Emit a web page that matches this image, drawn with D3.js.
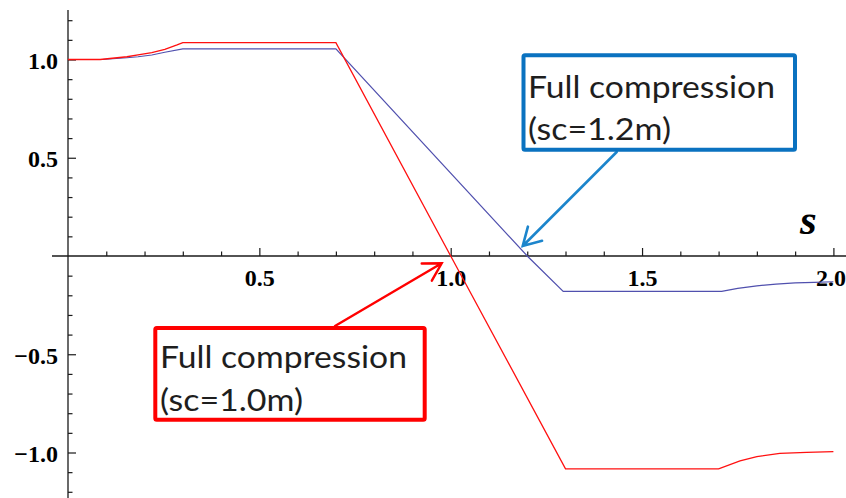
<!DOCTYPE html>
<html>
<head>
<meta charset="utf-8">
<script src="https://cdn.jsdelivr.net/npm/d3@7"></script>
<style>
  html, body { margin: 0; padding: 0; background: #fff; }
  svg { display: block; }
</style>
</head>
<body>
<svg id="chart" width="846" height="498"></svg>
<script>
// Red series: sc = 1.0 m
const redS = [0, 0.084, 0.154, 0.183, 0.219, 0.253, 0.285, 0.3, 0.7, 1.0, 1.3, 1.7, 1.756, 1.8, 1.86, 1.93, 2.0];
const redV = [1.0, 1.0, 1.014, 1.023, 1.035, 1.052, 1.074, 1.086, 1.086, 0.0, -1.083, -1.083, -1.043, -1.021, -1.004, -0.999, -0.996];

// Blue series: sc = 1.2 m
const blueS = [0, 0.09, 0.154, 0.183, 0.219, 0.253, 0.3, 0.7, 1.2, 1.294, 1.708, 1.75, 1.8, 1.85, 1.9, 1.95, 2.0];
const blueV = [1.0, 1.0, 1.009, 1.014, 1.023, 1.037, 1.054, 1.054, 0.0, -0.18, -0.18, -0.165, -0.152, -0.143, -0.137, -0.134, -0.131];

// Axis ticks
const xMajorTicks = [0.5, 1.0, 1.5, 2.0];
const xMinorTicks = [0.1, 0.2, 0.3, 0.4, 0.6, 0.7, 0.8, 0.9, 1.1, 1.2, 1.3, 1.4, 1.6, 1.7, 1.8, 1.9];
const yMajorTicks = [-1.0, -0.5, 0.5, 1.0];
const yMinorTicks = [-1.2, -1.1, -0.9, -0.8, -0.7, -0.6, -0.4, -0.3, -0.2, -0.1, 0.1, 0.2, 0.3, 0.4, 0.6, 0.7, 0.8, 0.9, 1.1, 1.2];

// Annotations: text lines and the crossing point each arrow points at
const blueNote = ["Full compression", "(sc=1.2m)"];
const redNote = ["Full compression", "(sc=1.0m)"];
const blueTarget = [1.2, 0];
const redTarget = [1.0, 0];

const W = 846, H = 498;
const svg = d3.select("#chart");
svg.append("rect").attr("width", W).attr("height", H).attr("fill", "#fff");

const x = d3.scaleLinear().domain([0, 2]).range([68, 833.4]);
const y = d3.scaleLinear().domain([-1, 1]).range([452.5, 59.5]);

const axisColor = "#1a1a1a";
const fmt = d3.format(".1f");

// ---- axes ----
const gx = svg.append("g").attr("transform", `translate(0,${y(0)})`);
gx.append("line").attr("x1", 52).attr("x2", W).attr("y1", 0).attr("y2", 0)
  .attr("stroke", axisColor).attr("stroke-width", 1.3);
gx.append("g").call(d3.axisBottom(x).tickValues(xMinorTicks).tickSizeInner(-4.5).tickSizeOuter(0).tickFormat(""));
gx.append("g").call(d3.axisBottom(x).tickValues(xMajorTicks).tickSizeInner(-8).tickSizeOuter(0).tickPadding(13).tickFormat(fmt));

const gy = svg.append("g").attr("transform", `translate(${x(0)},0)`);
gy.append("line").attr("x1", 0).attr("x2", 0).attr("y1", 10).attr("y2", H)
  .attr("stroke", axisColor).attr("stroke-width", 1.3);
gy.append("g").call(d3.axisLeft(y).tickValues(yMinorTicks).tickSizeInner(-4.5).tickSizeOuter(0).tickFormat(""));
gy.append("g").call(d3.axisLeft(y).tickValues(yMajorTicks).tickSizeInner(-8).tickSizeOuter(0).tickPadding(10).tickFormat(fmt));

svg.selectAll(".domain").remove();
svg.selectAll(".tick line").attr("stroke", axisColor).attr("stroke-width", 1.2);
svg.selectAll(".tick text")
  .attr("fill", "#000")
  .style("font-family", "'Liberation Serif', 'Times New Roman', serif")
  .style("font-size", "24px")
  .style("font-weight", "bold");
gy.selectAll(".tick text").attr("dy", "0.38em");
// the last x label sits against the right edge
gx.selectAll(".tick text").filter(d => d === 2.0)
  .attr("text-anchor", "end").attr("x", W - x(2.0) - 0.5);

// axis label
svg.append("text")
  .attr("x", 800).attr("y", 233.5)
  .style("font-family", "'Liberation Serif', 'Times New Roman', serif")
  .style("font-size", "43px").style("font-style", "italic").style("font-weight", "bold")
  .attr("fill", "#000")
  .text("s");

// ---- curves ----
const line = d3.line().x(d => x(d[0])).y(d => y(d[1]));
svg.append("path").datum(blueS.map((s, i) => [s, blueV[i]]))
  .attr("d", line).attr("fill", "none").attr("stroke", "#5050ae").attr("stroke-width", 1.2);
svg.append("path").datum(redS.map((s, i) => [s, redV[i]]))
  .attr("d", line).attr("fill", "none").attr("stroke", "#ff1010").attr("stroke-width", 1.3);

// ---- annotations ----
function noteBox(bx, by, bw, bh, color, lines, tx, baselines) {
  svg.append("rect").attr("x", bx).attr("y", by).attr("width", bw).attr("height", bh)
    .attr("rx", 1.5).attr("fill", "#fff").attr("stroke", color).attr("stroke-width", 4);
  lines.forEach((t, i) => {
    svg.append("text").attr("x", tx).attr("y", baselines[i])
      .style("font-family", "Lato, 'Open Sans', sans-serif").style("font-size", "30px")
      .attr("fill", "#1e1e1e")
      .attr("textLength", i === 0 ? 247 : 143).attr("lengthAdjust", "spacingAndGlyphs")
      .text(t);
  });
}

function arrow(x0, y0, x1, y1, color, width) {
  const ang = Math.atan2(y0 - y1, x0 - x1);
  const len = 20, spread = Math.PI / 6;
  const p = d3.path();
  p.moveTo(x0, y0); p.lineTo(x1, y1);
  p.moveTo(x1 + len * Math.cos(ang + spread), y1 + len * Math.sin(ang + spread));
  p.lineTo(x1, y1);
  p.lineTo(x1 + len * Math.cos(ang - spread), y1 + len * Math.sin(ang - spread));
  svg.append("path").attr("d", p.toString()).attr("fill", "none")
    .attr("stroke", color).attr("stroke-width", width)
    .attr("stroke-linecap", "round").attr("stroke-linejoin", "miter");
}

// blue note, arrow to the sc = 1.2 crossing
arrow(616.7, 152, x(blueTarget[0]) - 4.5, y(blueTarget[1]) - 10, "#1c85cc", 2.6);
noteBox(523.5, 55.3, 271.5, 94.5, "#0a72c0", blueNote, 528, [98.3, 139.5]);

// red note, arrow to the sc = 1.0 crossing
arrow(335, 326, x(redTarget[0]) - 9, y(redTarget[1]) + 7.3, "#ff0000", 2.4);
noteBox(155.3, 328, 269.4, 91.7, "#ff0000", redNote, 160, [368.3, 410.5]);
</script>
</body>
</html>
